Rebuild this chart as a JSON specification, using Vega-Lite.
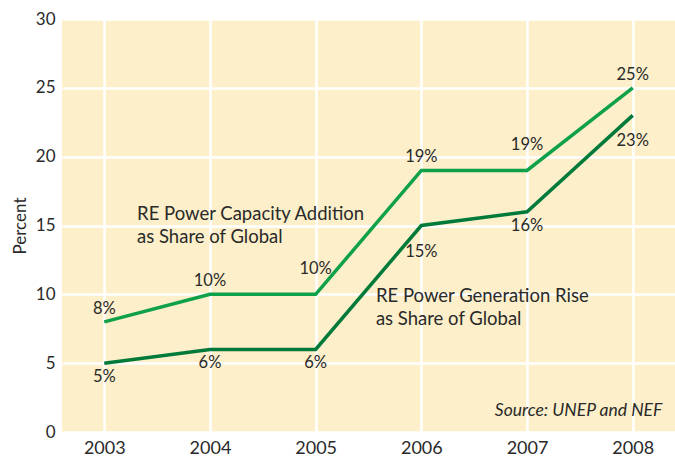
{
  "$schema": "https://vega.github.io/schema/vega-lite/v6.json",
  "width": 613,
  "height": 413,
  "autosize": {"type": "none"},
  "padding": {"left": 62, "top": 19, "right": 0, "bottom": 25},
  "background": "white",
  "config": {
    "view": {"fill": "#FCEFC9", "stroke": null},
    "font": "Lato",
    "axis": {"gridColor": "white", "gridWidth": 2.5, "gridOpacity": 1, "domain": false, "ticks": false, "labelColor": "#2a2a2a", "labelFontSize": 17, "labelFont": "Lato", "titleFont": "Lato"}
  },
  "datasets": {
    "series": [
      {"year": 2003, "value": 8, "series": "Capacity"},
      {"year": 2004, "value": 10, "series": "Capacity"},
      {"year": 2005, "value": 10, "series": "Capacity"},
      {"year": 2006, "value": 19, "series": "Capacity"},
      {"year": 2007, "value": 19, "series": "Capacity"},
      {"year": 2008, "value": 25, "series": "Capacity"},
      {"year": 2003, "value": 5, "series": "Generation"},
      {"year": 2004, "value": 6, "series": "Generation"},
      {"year": 2005, "value": 6, "series": "Generation"},
      {"year": 2006, "value": 15, "series": "Generation"},
      {"year": 2007, "value": 16, "series": "Generation"},
      {"year": 2008, "value": 23, "series": "Generation"}
    ],
    "notes": [
      {"x": 2003.31, "y": 16.5, "text": "RE Power Capacity Addition|as Share of Global"},
      {"x": 2005.57, "y": 10.5, "text": "RE Power Generation Rise|as Share of Global"}
    ],
    "source": [
      {"x": 2008.28, "y": 1.5, "text": "Source: UNEP and NEF"}
    ]
  },
  "layer": [
    {
      "data": {"name": "series"},
      "mark": {"type": "line", "strokeWidth": 3.5, "strokeJoin": "miter"},
      "encoding": {
        "x": {"field": "year", "type": "quantitative", "scale": {"domain": [2002.6, 2008.4], "nice": false, "zero": false},
              "axis": {"values": [2003, 2004, 2005, 2006, 2007, 2008], "format": "d", "title": null, "labelPadding": 7, "labelFontSize": 18}},
        "y": {"field": "value", "type": "quantitative", "scale": {"domain": [0, 30], "nice": false},
              "axis": {"values": [0, 5, 10, 15, 20, 25, 30], "title": "Percent", "titleFontSize": 17, "titleFontWeight": "normal", "titleColor": "#2a2a2a", "titlePadding": 6, "labelPadding": 7}},
        "color": {"field": "series", "type": "nominal", "scale": {"domain": ["Capacity", "Generation"], "range": ["#0FA04A", "#007A3A"]}, "legend": null}
      }
    },
    {
      "data": {"name": "series"},
      "transform": [{"filter": "datum.series == 'Capacity' && datum.year != 2005 && datum.year != 2007"}, {"calculate": "datum.value + '%'", "as": "label"}],
      "mark": {"type": "text", "dy": -13, "fontSize": 16.5, "color": "#2a2a2a", "baseline": "middle"},
      "encoding": {"x": {"field": "year", "type": "quantitative"}, "y": {"field": "value", "type": "quantitative"}, "text": {"field": "label"}}
    },
    {
      "data": {"name": "series"},
      "transform": [{"filter": "datum.series == 'Capacity' && (datum.year == 2005 || datum.year == 2007)"}, {"calculate": "datum.value + '%'", "as": "label"}],
      "mark": {"type": "text", "dy": -25, "fontSize": 16.5, "color": "#2a2a2a", "baseline": "middle"},
      "encoding": {"x": {"field": "year", "type": "quantitative"}, "y": {"field": "value", "type": "quantitative"}, "text": {"field": "label"}}
    },
    {
      "data": {"name": "series"},
      "transform": [{"filter": "datum.series == 'Generation' && datum.year != 2006 && datum.year != 2008"}, {"calculate": "datum.value + '%'", "as": "label"}],
      "mark": {"type": "text", "dy": 14, "fontSize": 16.5, "color": "#2a2a2a", "baseline": "middle"},
      "encoding": {"x": {"field": "year", "type": "quantitative"}, "y": {"field": "value", "type": "quantitative"}, "text": {"field": "label"}}
    },
    {
      "data": {"name": "series"},
      "transform": [{"filter": "datum.series == 'Generation' && (datum.year == 2006 || datum.year == 2008)"}, {"calculate": "datum.value + '%'", "as": "label"}],
      "mark": {"type": "text", "dy": 26, "fontSize": 16.5, "color": "#2a2a2a", "baseline": "middle"},
      "encoding": {"x": {"field": "year", "type": "quantitative"}, "y": {"field": "value", "type": "quantitative"}, "text": {"field": "label"}}
    },
    {
      "data": {"name": "notes"},
      "mark": {"type": "text", "align": "left", "baseline": "top", "fontSize": 18.5, "lineBreak": "|", "lineHeight": 23, "color": "#2a2a2a"},
      "encoding": {"x": {"field": "x", "type": "quantitative"}, "y": {"field": "y", "type": "quantitative"}, "text": {"field": "text"}}
    },
    {
      "data": {"name": "source"},
      "mark": {"type": "text", "align": "right", "baseline": "middle", "fontSize": 17.5, "fontStyle": "italic", "color": "#2a2a2a"},
      "encoding": {"x": {"field": "x", "type": "quantitative"}, "y": {"field": "y", "type": "quantitative"}, "text": {"field": "text"}}
    }
  ]
}
